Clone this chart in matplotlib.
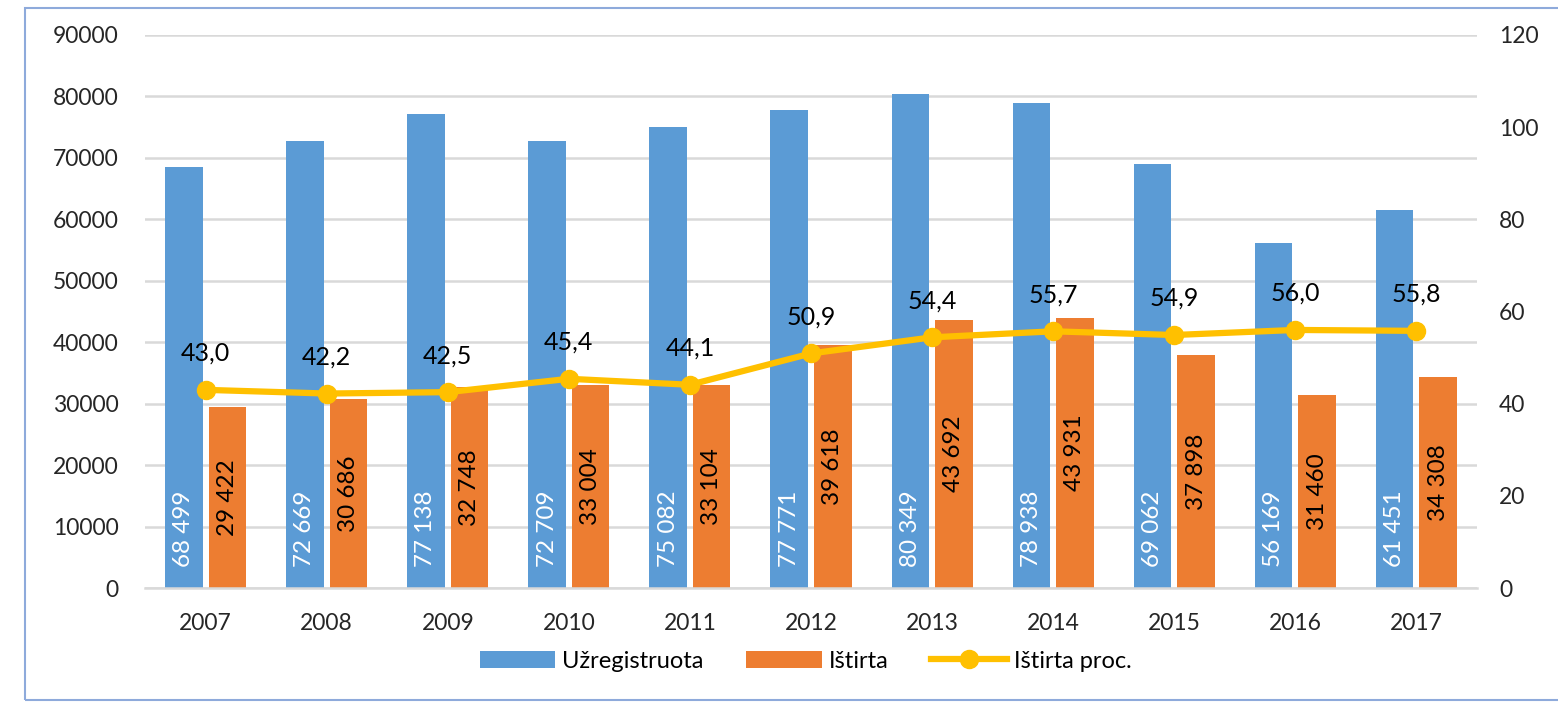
import numpy as np
import matplotlib.pyplot as plt
from matplotlib.patches import Rectangle

plt.rcParams['font.family'] = ['Lato', 'DejaVu Sans']

years = ['2007', '2008', '2009', '2010', '2011', '2012', '2013', '2014', '2015', '2016', '2017']
registered = [68499, 72669, 77138, 72709, 75082, 77771, 80349, 78938, 69062, 56169, 61451]
deleted = [29422, 30686, 32748, 33004, 33104, 39618, 43692, 43931, 37898, 31460, 34308]
deleted_pct = [43.0, 42.2, 42.5, 45.4, 44.1, 50.9, 54.4, 55.7, 54.9, 56.0, 55.8]

BLUE = '#5B9BD5'
ORANGE = '#ED7D31'
YELLOW = '#FFC000'
GRID = '#D9D9D9'

def fmt_thousands(v):
    return '{:,}'.format(v).replace(',', ' ')

fig = plt.figure(figsize=(15.58, 7.07), dpi=100)
ax = fig.add_axes([0.0931, 0.1683, 0.8549, 0.7822])
ax2 = ax.twinx()

x = np.arange(len(years))
w = 0.31
off = 0.18

b1 = ax.bar(x - off, registered, w, color=BLUE, label='Užregistruota', zorder=2)
b2 = ax.bar(x + off, deleted, w, color=ORANGE, label='Ištirta', zorder=2)

# blue labels sit at the bar base, orange ones in the bar middle
for xi, v in zip(x, registered):
    ax.annotate(fmt_thousands(v), (xi - off, 0), xytext=(0, 15), textcoords='offset points',
                rotation=90, ha='center', va='bottom', color='white', fontsize=17.5)
for xi, v in zip(x, deleted):
    ax.text(xi + off, v / 2, fmt_thousands(v), rotation=90, ha='center', va='center',
            color='black', fontsize=17.5)

ax.set_ylim(0, 90000)
ax.set_yticks(np.arange(0, 90001, 10000))
ax.set_xlim(-0.5, len(years) - 0.5)
ax.set_xticks(x)
ax.set_xticklabels(years)
ax.yaxis.grid(True, color=GRID, lw=1.8, zorder=0)
ax.set_axisbelow(True)
for s in ['top', 'right', 'left']:
    ax.spines[s].set_visible(False)
ax.spines['bottom'].set_color(GRID)
ax.spines['bottom'].set_linewidth(1.8)
ax.tick_params(axis='both', length=0, labelsize=16.5, colors='#262626')
ax.tick_params(axis='x', pad=18)
ax.tick_params(axis='y', pad=19)

l1, = ax2.plot(x, deleted_pct, color=YELLOW, lw=4.5, marker='o', ms=13, label='Ištirta proc.', zorder=3)
for xi, v in zip(x, deleted_pct):
    ax2.annotate('{:.1f}'.format(v).replace('.', ','), (xi, v), xytext=(0, 18), textcoords='offset points',
                 ha='center', va='bottom', fontsize=18, color='black')
ax2.set_ylim(0, 120)
ax2.set_yticks(np.arange(0, 121, 20))
for s in ['top', 'right', 'left', 'bottom']:
    ax2.spines[s].set_visible(False)
ax2.tick_params(axis='y', length=0, labelsize=16.5, colors='#262626', pad=16)

fig.legend(handles=[b1, b2, l1], loc='center', bbox_to_anchor=(0.517, 0.065), ncol=3,
           frameon=False, fontsize=17, handlelength=3.2, handletextpad=0.3, columnspacing=1.8)

# outer chart frame
fig.patches.append(Rectangle((25 / 1558, 1 - 700 / 707), 1.0, (700 - 8) / 707, transform=fig.transFigure,
                             fill=False, edgecolor='#8EAADB', lw=1.5))

fig.savefig('out.png', dpi=100)
